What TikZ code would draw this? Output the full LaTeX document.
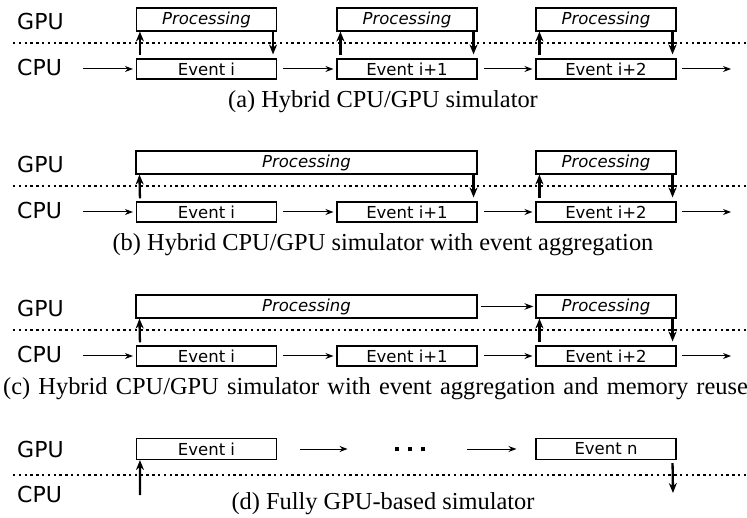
\documentclass[tikz,border=0pt]{standalone}
\usepackage{fontspec}
\setmainfont{Liberation Serif}
\newfontfamily\dvsans{DejaVu Sans}
\usetikzlibrary{arrows.meta}

\begin{document}
\begin{tikzpicture}[x=1pt,y=-1pt,
  lane/.style={font=\dvsans\fontsize{22}{22}\selectfont, anchor=base west, inner sep=0pt},
  procbox/.style={draw, line width=1.1pt, minimum width=140pt, minimum height=23pt, inner sep=0pt,
                  font=\dvsans\itshape\fontsize{16.5}{16.5}\selectfont},
  evbox/.style={draw, line width=1.1pt, minimum width=140pt, minimum height=20pt, inner sep=0pt,
                font=\dvsans\fontsize{16.5}{16.5}\selectfont},
  divider/.style={line width=1.8pt, dash pattern=on 2.4pt off 3.4pt},
  flow/.style={line width=1pt, -{Stealth[length=8pt,width=6pt]}},
  gflow/.style={line width=1.6pt, -{Stealth[length=9pt,width=6.5pt]}},
  xfer/.style={line width=2.3pt, -{Stealth[length=10pt,width=8pt]}},
  caption/.style={font=\fontsize{24.4}{24.4}\selectfont, anchor=base, inner sep=0pt}]
\useasboundingbox (0,0) rectangle (747,518);

% ---------------- (a) ----------------
\node[lane] (gpuA) at (17,30) {GPU};
\node[lane] (cpuA) at (17,76) {CPU};
\coordinate (dlA0) at (13,43); \coordinate (dlA1) at (747,43);
\draw[divider] (dlA0) -- (dlA1);
\node[procbox] (pA1) at (206.5,19.5) {Processing};
\node[procbox] (pA2) at (407,19.5) {Processing};
\node[procbox] (pA3) at (606,19.5) {Processing};
\node[evbox] (eA1) at (206.5,69) {Event i};
\node[evbox] (eA2) at (407,69) {Event i+1};
\node[evbox] (eA3) at (606,69) {Event i+2};
\foreach \k in {1,2,3}{
  \draw[xfer] ([xshift=4pt,yshift=3pt]eA\k.north west) -- ([xshift=4pt]pA\k.south west);
  \draw[xfer] ([xshift=-4pt]pA\k.south east) -- ([xshift=-4pt,yshift=4pt]eA\k.north east);
}
\coordinate (inA) at (83,69); \coordinate (outA) at (731,69);
\draw[flow] (inA) -- ([xshift=-3pt]eA1.west);
\draw[flow] ([xshift=6pt]eA1.east) -- ([xshift=-3pt]eA2.west);
\draw[flow] ([xshift=6pt]eA2.east) -- ([xshift=-3pt]eA3.west);
\draw[flow] ([xshift=5pt]eA3.east) -- (outA);
\node[caption] (capA) at (383,108) {(a) Hybrid CPU/GPU simulator};

% ---------------- (b) ----------------
\node[lane] (gpuB) at (17,173) {GPU};
\node[lane] (cpuB) at (17,219) {CPU};
\coordinate (dlB0) at (13,186); \coordinate (dlB1) at (747,186);
\draw[divider] (dlB0) -- (dlB1);
\node[procbox, minimum width=341pt] (pB1) at (306.5,162.5) {Processing};
\node[procbox] (pB3) at (606,162.5) {Processing};
\node[evbox] (eB1) at (206.5,212) {Event i};
\node[evbox] (eB2) at (407,212) {Event i+1};
\node[evbox] (eB3) at (606,212) {Event i+2};
\draw[xfer] ([xshift=4pt,yshift=3pt]eB1.north west) -- ([xshift=4pt]pB1.south west);
\draw[xfer] ([xshift=-4pt]pB1.south east) -- ([xshift=-4pt,yshift=4pt]eB2.north east);
\draw[xfer] ([xshift=4pt,yshift=3pt]eB3.north west) -- ([xshift=4pt]pB3.south west);
\draw[xfer] ([xshift=-4pt]pB3.south east) -- ([xshift=-4pt,yshift=4pt]eB3.north east);
\coordinate (inB) at (83,212); \coordinate (outB) at (731,212);
\draw[flow] (inB) -- ([xshift=-3pt]eB1.west);
\draw[flow] ([xshift=6pt]eB1.east) -- ([xshift=-3pt]eB2.west);
\draw[flow] ([xshift=6pt]eB2.east) -- ([xshift=-3pt]eB3.west);
\draw[flow] ([xshift=5pt]eB3.east) -- (outB);
\node[caption] (capB) at (383,251) {(b) Hybrid CPU/GPU simulator with event aggregation};

% ---------------- (c) ----------------
\node[lane] (gpuC) at (17,317) {GPU};
\node[lane] (cpuC) at (17,363) {CPU};
\coordinate (dlC0) at (13,330); \coordinate (dlC1) at (747,330);
\draw[divider] (dlC0) -- (dlC1);
\node[procbox, minimum width=341pt] (pC1) at (306.5,306.5) {Processing};
\node[procbox] (pC3) at (606,306.5) {Processing};
\node[evbox] (eC1) at (206.5,356) {Event i};
\node[evbox] (eC2) at (407,356) {Event i+1};
\node[evbox] (eC3) at (606,356) {Event i+2};
\draw[gflow] ([xshift=3pt]pC1.east) -- ([xshift=-2pt]pC3.west);
\draw[xfer] ([xshift=4pt,yshift=3pt]eC1.north west) -- ([xshift=4pt]pC1.south west);
\draw[xfer] ([xshift=4pt,yshift=3pt]eC3.north west) -- ([xshift=4pt]pC3.south west);
\draw[xfer] ([xshift=-4pt]pC3.south east) -- ([xshift=-4pt,yshift=4pt]eC3.north east);
\coordinate (inC) at (83,356); \coordinate (outC) at (731,356);
\draw[flow] (inC) -- ([xshift=-3pt]eC1.west);
\draw[flow] ([xshift=6pt]eC1.east) -- ([xshift=-3pt]eC2.west);
\draw[flow] ([xshift=6pt]eC2.east) -- ([xshift=-3pt]eC3.west);
\draw[flow] ([xshift=5pt]eC3.east) -- (outC);
\node[caption, anchor=base west] (capC) at (3,395)
  {\spaceskip=8.2pt plus 1pt (c) Hybrid CPU/GPU simulator with event aggregation and memory reuse};

% ---------------- (d) ----------------
\node[lane] (gpuD) at (17,457) {GPU};
\node[lane] (cpuD) at (17,502) {CPU};
\coordinate (dlD0) at (13,475); \coordinate (dlD1) at (747,475);
\draw[divider] (dlD0) -- (dlD1);
\node[evbox, minimum height=21pt] (dI) at (206.5,449) {Event i};
\node[evbox, minimum height=21pt] (dN) at (606,449) {Event n};
\node[inner sep=0pt] (dots) at (410,449)
  {\rule{4.5pt}{4.5pt}\hspace{8.5pt}\rule{4.5pt}{4.5pt}\hspace{8.5pt}\rule{4.5pt}{4.5pt}};
\draw[flow] ([xshift=23pt]dI.east) -- ([xshift=-47pt]dots.west);
\draw[flow] ([xshift=42pt]dots.east) -- ([xshift=-19pt]dN.west);
\coordinate (upD) at (140,495); \coordinate (downD) at (673,493);
\draw[xfer] (upD) -- ([xshift=4pt]dI.south west);
\draw[xfer] ([xshift=-4pt,yshift=-3pt]dN.south east) -- (downD);
\node[caption] (capD) at (383,509) {(d) Fully GPU-based simulator};
\end{tikzpicture}
\end{document}
